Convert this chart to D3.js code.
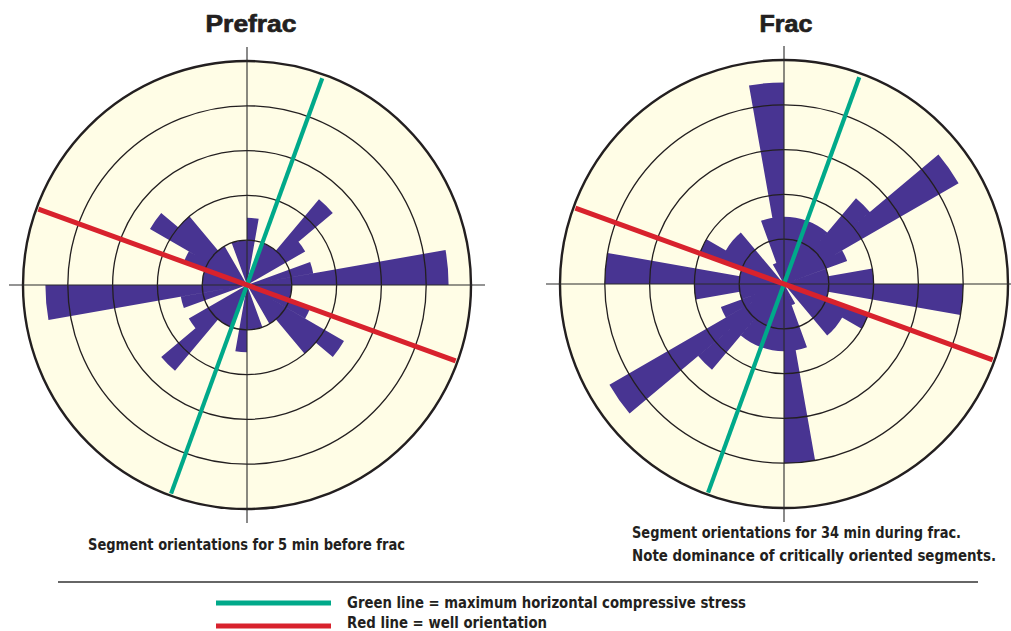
<!DOCTYPE html>
<html>
<head>
<meta charset="utf-8">
<script src="https://cdn.jsdelivr.net/npm/d3@7"></script>
<style>
  body { margin: 0; background: #ffffff; }
  svg { display: block; }
</style>
</head>
<body>
<svg id="chart" width="1011" height="631"></svg>
<script>
// Segment counts per 10° azimuth bin, clockwise from north (0–10°, 10–20°, … 350–360°)
const binWidth = 10;
const prefracCounts = [3, 0, 2, 2, 5, 3, 0, 3, 9, 2, 2, 3, 5, 4, 2, 0, 2, 2,
                       3, 0, 2, 2, 5, 3, 0, 3, 9, 2, 2, 3, 5, 4, 2, 0, 2, 2];
const fracCounts    = [3, 3, 3, 3, 5, 9, 3, 2, 4, 8, 2, 4, 3, 3, 0, 1, 3, 8,
                       3, 3, 3, 3, 5, 9, 3, 2, 4, 8, 2, 4, 3, 3, 0, 1, 3, 9];

// Count rings (the last one is the outer rim)
const ringTicks = [2, 4, 6, 8, 10];

// Reference orientations (azimuth, degrees)
const stressAzimuth = 20;   // maximum horizontal compressive stress
const wellAzimuth = 110;    // well orientation

const titles = ["Prefrac", "Frac"];
const captionsPrefrac = ["Segment orientations for 5 min before frac"];
const captionsFrac = ["Segment orientations for 34 min during frac.",
                      "Note dominance of critically oriented segments."];
const legendLabels = ["Green line = maximum horizontal compressive stress",
                      "Red line = well orientation"];

const colors = {
  bar: "#483492",
  face: "#FFFDE6",
  ink: "#231F20",
  stress: "#00A98A",
  well: "#D8222D"
};

const svg = d3.select("#chart");
const rMax = 224;
const r = d3.scaleLinear().domain([0, 10]).range([0, rMax]);
const rad = deg => deg * Math.PI / 180;
const arc = d3.arc().innerRadius(0);
const radial = d3.lineRadial();

function drawRose(cx, cy, counts, title, titleWidth, titleDx) {
  const g = svg.append("g").attr("transform", `translate(${cx},${cy})`);

  // plot face
  g.append("circle").attr("r", r(10)).attr("fill", colors.face);

  // rose petals, one wedge per bin, merged into a single outline so that
  // neighbouring wedges join without anti-aliasing seams
  const petals = counts.map((d, i) => arc({
    outerRadius: r(d),
    startAngle: rad(i * binWidth),
    endAngle: rad((i + 1) * binWidth)
  }));
  g.append("path")
    .datum(counts)
    .attr("d", petals.join(""))
    .attr("fill", colors.bar);

  // count rings
  g.append("g").selectAll("circle").data(ringTicks).join("circle")
    .attr("r", d => r(d))
    .attr("fill", "none")
    .attr("stroke", colors.ink)
    .attr("stroke-width", d => d === 10 ? 2.4 : 1.3);

  // N–S and E–W axes
  const axisLen = 238;
  g.append("path")
    .attr("d", radial([[0, axisLen], [Math.PI, axisLen]]))
    .attr("stroke", "#2a2a2a").attr("stroke-width", 1.1).attr("fill", "none");
  g.append("path")
    .attr("d", radial([[Math.PI / 2, axisLen], [Math.PI * 1.5, axisLen]]))
    .attr("stroke", "#2a2a2a").attr("stroke-width", 1.1).attr("fill", "none");

  // stress and well orientation lines
  g.append("path")
    .attr("d", radial([[rad(stressAzimuth), 220], [rad(stressAzimuth + 180), 222]]))
    .attr("stroke", colors.stress).attr("stroke-width", 4.2).attr("fill", "none");
  g.append("path")
    .attr("d", radial([[rad(wellAzimuth), 222], [rad(wellAzimuth + 180), 222]]))
    .attr("stroke", colors.well).attr("stroke-width", 5).attr("fill", "none");

  // title
  svg.append("text")
    .attr("x", cx + titleDx).attr("y", 32)
    .attr("text-anchor", "middle")
    .attr("font-family", "Liberation Sans, Arial, sans-serif")
    .attr("font-weight", 900)
    .attr("font-size", 24)
    .attr("textLength", titleWidth)
    .attr("lengthAdjust", "spacingAndGlyphs")
    .attr("fill", colors.ink)
    .attr("stroke", colors.ink)
    .attr("stroke-width", 0.7)
    .text(title);
}

drawRose(247, 285, prefracCounts, titles[0], 91, 4);
drawRose(784, 284, fracCounts, titles[1], 53, 2);

const captionFont = "DejaVu Sans Condensed, DejaVu Sans, sans-serif";

function caption(x, y, str, width) {
  svg.append("text")
    .attr("x", x).attr("y", y)
    .attr("font-family", captionFont)
    .attr("font-stretch", "condensed")
    .attr("font-weight", 700)
    .attr("font-size", 15)
    .attr("textLength", width)
    .attr("lengthAdjust", "spacingAndGlyphs")
    .attr("fill", colors.ink)
    .text(str);
}

caption(88, 550, captionsPrefrac[0], 317);
caption(632, 538, captionsFrac[0], 329);
caption(632, 561, captionsFrac[1], 364);

// separator rule
svg.append("line")
  .attr("x1", 58).attr("x2", 978).attr("y1", 582).attr("y2", 582)
  .attr("stroke", "#333").attr("stroke-width", 1.4);

// legend
const legend = [
  { label: legendLabels[0], color: colors.stress, y: 603, textY: 608, width: 399 },
  { label: legendLabels[1], color: colors.well, y: 626, textY: 628, width: 200 }
];
legend.forEach(item => {
  svg.append("line")
    .attr("x1", 216).attr("x2", 331).attr("y1", item.y).attr("y2", item.y)
    .attr("stroke", item.color).attr("stroke-width", 5);
  caption(347, item.textY, item.label, item.width);
});
</script>
</body>
</html>
